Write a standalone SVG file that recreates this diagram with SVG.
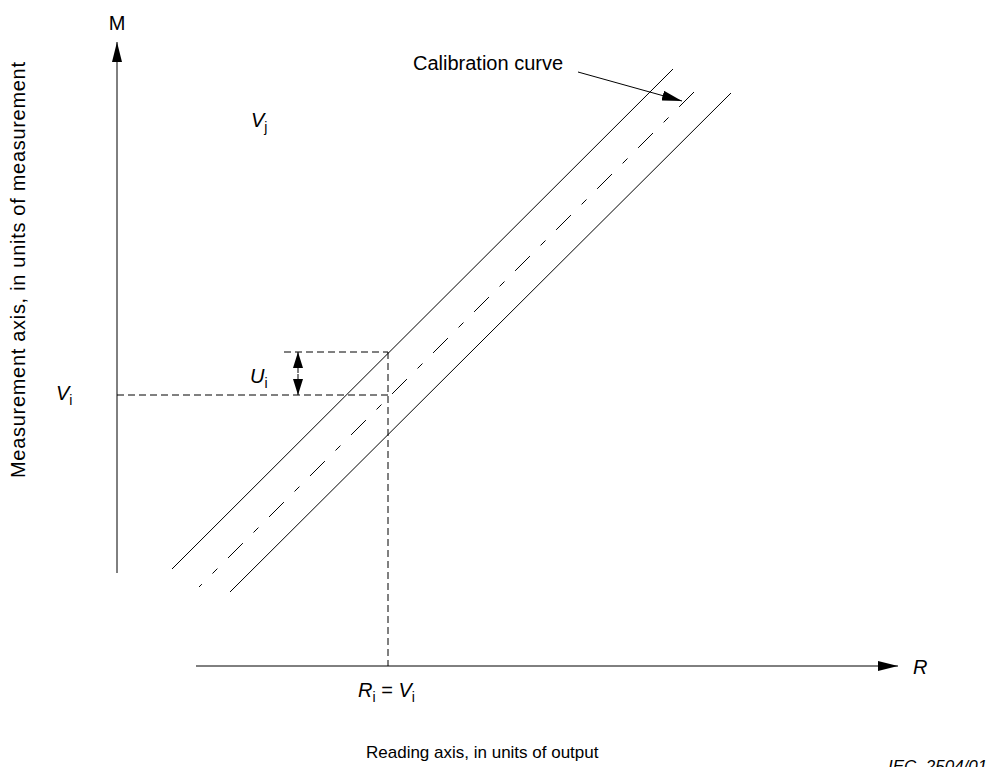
<svg xmlns="http://www.w3.org/2000/svg" width="986" height="767" viewBox="0 0 986 767">
<style>
text{font-family:"Liberation Sans",Arial,sans-serif;font-size:20px;fill:#000}
.it{font-style:italic}
.sub{font-size:14px;font-style:normal}
.ln{stroke:#000;stroke-width:1;fill:none}
.ds{stroke:#000;stroke-width:1;fill:none;stroke-dasharray:7 4}
.dd{stroke:#000;stroke-width:1;fill:none;stroke-dasharray:21 15 7 15}
</style>
<defs>
<marker id="ah" viewBox="0 0 20 10" refX="20" refY="5" markerWidth="20" markerHeight="10" markerUnits="userSpaceOnUse" orient="auto">
<path d="M0,0 L20,5 L0,10 z" fill="#000"/>
</marker>
<marker id="ah2" viewBox="0 0 16 10" refX="16" refY="5" markerWidth="16" markerHeight="10" markerUnits="userSpaceOnUse" orient="auto">
<path d="M0,0 L16,5 L0,10 z" fill="#000"/>
</marker>
</defs>
<rect width="986" height="767" fill="#fff"/>
<g id="connectors">
<line id="m-axis" class="ln" x1="117" y1="573" x2="117" y2="42" marker-end="url(#ah)"/>
<line id="r-axis" class="ln" x1="196" y1="666" x2="898" y2="666" marker-end="url(#ah)"/>
<line id="upper-limit" class="ln" x1="172" y1="569" x2="673" y2="69"/>
<line id="calibration-curve" class="dd" x1="694" y1="92" x2="199" y2="587"/>
<line id="lower-limit" class="ln" x1="230" y1="592" x2="731" y2="93"/>
<line class="ds" x1="284" y1="352" x2="388" y2="352"/>
<line class="ds" x1="117" y1="395" x2="388" y2="395"/>
<line class="ds" x1="388" y1="352" x2="388" y2="666"/>
<line id="u-arrow-up" class="ln" x1="298" y1="373" x2="298" y2="352" marker-end="url(#ah2)"/>
<line id="u-arrow-down" class="ln" x1="298" y1="374" x2="298" y2="395" marker-end="url(#ah2)"/>
<line id="cal-leader" class="ln" x1="578" y1="72" x2="682" y2="101" marker-end="url(#ah)"/>
</g>
<g id="label-M"><text x="117" y="30" text-anchor="middle">M</text></g>
<g id="label-R"><text class="it" x="913" y="674">R</text></g>
<g id="label-Vj"><text class="it" x="251" y="127">V<tspan class="sub" dy="5">j</tspan></text></g>
<g id="label-Vi"><text class="it" x="56" y="400">V<tspan class="sub" dy="5">i</tspan></text></g>
<g id="label-Ui"><text class="it" x="250" y="383">U<tspan class="sub" dy="5">i</tspan></text></g>
<g id="label-RiVi"><text class="it" x="358" y="697">R<tspan class="sub" dy="5">i</tspan><tspan dy="-5" font-style="normal"> = </tspan>V<tspan class="sub" dy="5">i</tspan></text></g>
<g id="label-cal"><text x="413" y="70">Calibration curve</text></g>
<g id="label-m-axis"><text transform="translate(25,270) rotate(-90)" text-anchor="middle" textLength="416">Measurement axis, in units of measurement</text></g>
<g id="label-r-axis"><text x="366" y="758" style="font-size:17px">Reading axis, in units of output</text></g>
<g id="label-iec"><text class="it" x="888" y="772" style="font-size:17px" xml:space="preserve">IEC  2504/01</text></g>
</svg>
